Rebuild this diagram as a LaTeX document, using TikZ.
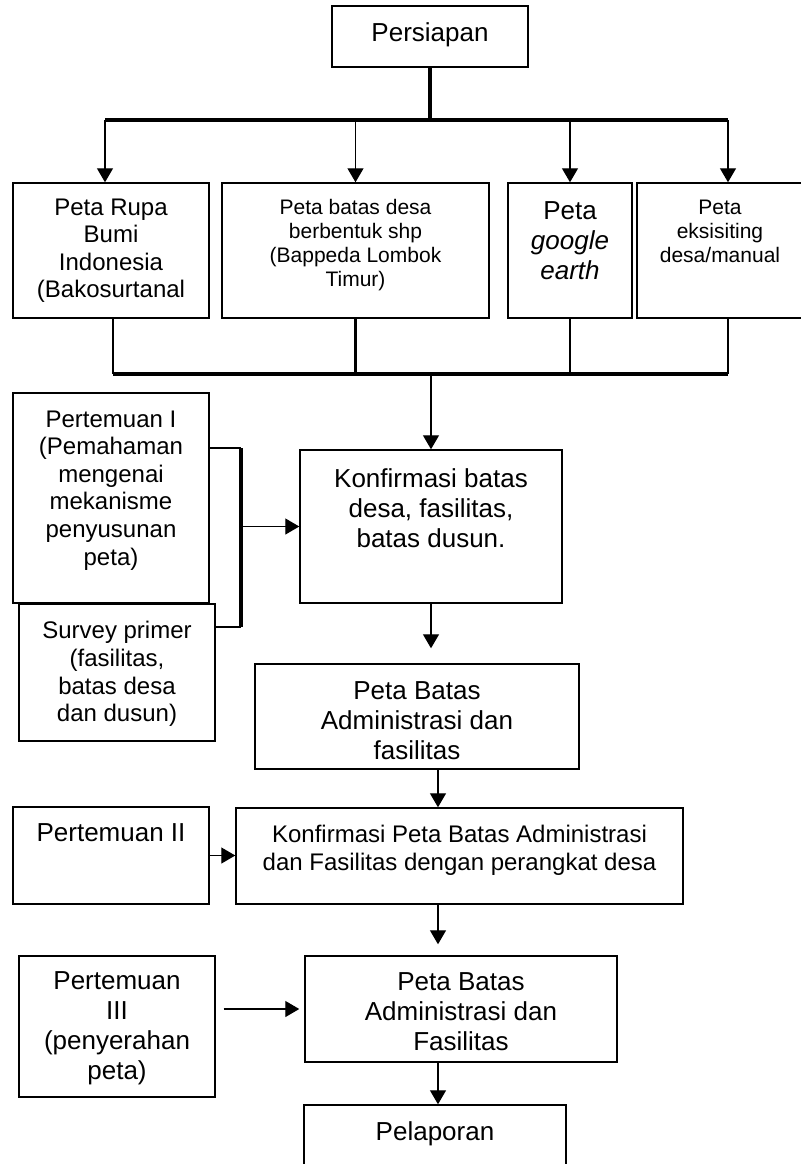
\documentclass[tikz,border=0pt]{standalone}
\usepackage{fontspec}
\setmainfont{Liberation Sans}
\usetikzlibrary{arrows.meta,positioning,fit}

\tikzset{
  box/.style={draw, line width=1.1pt, inner sep=0pt},
  txt/.style={align=center, inner sep=0pt},
  big/.style={font=\fontsize{19.5}{22.6}\selectfont},
  mid/.style={font=\fontsize{18}{20.7}\selectfont},
  small/.style={font=\fontsize{15.75}{18}\selectfont},
  arr/.style={-{Triangle[width=12pt,length=10.5pt]}, line width=1pt},
  bus/.style={line width=2.5pt},
  link/.style={line width=1pt},
}

\begin{document}
\begin{tikzpicture}[x=0.75pt, y=-0.75pt, node distance=12.75pt]
\useasboundingbox (0,0) rectangle (800,1164);

% boxes
\node[box, fit={(332,6) (528,67)}] (pers) {};
\node[box, fit={(13,183) (209,318)}] (rupa) {};
\node[box, fit={(222,183) (489,318)}] (shp) {};
\node[box, fit={(508,183) (632,318)}] (google) {};
\node[box, fit={(637,183) (803,318)}] (eks) {};
\node[box, fit={(13,393) (209,603)}] (pert1) {};
\node[box, fit={(19,604) (215,741)}] (survey) {};
\node[box, fit={(300,450) (562,603)}] (konf) {};
\node[box, fit={(255,664) (579,769)}] (batas1) {};
\node[box, fit={(13,807) (209,904)}] (pert2) {};
\node[box, fit={(236,808) (683,904)}] (konfpeta) {};
\node[box, fit={(19,956) (215,1097)}] (pert3) {};
\node[box, fit={(305,956) (617,1062)}] (batas2) {};
\node[box, fit={(304,1105) (566,1190)}] (pelap) {};

% texts
\node[txt, big, below=of pers.north] (perstxt) {Persiapan};
\node[txt, mid, below=12pt of rupa.north] (rupatxt) {Peta Rupa\\Bumi\\Indonesia\\(Bakosurtanal};
\node[txt, small, below=of shp.north] (shptxt) {Peta batas desa\\berbentuk shp\\(Bappeda Lombok\\Timur)};
\node[txt, big, below=14.25pt of google.north] (googletxt) {Peta\\\itshape google\\\itshape earth};
\node[txt, small, below=13.5pt of eks.north] (ekstxt) {Peta\\eksisiting\\desa/manual};
\node[txt, mid, below=13.5pt of pert1.north] (pert1txt) {Pertemuan I\\(Pemahaman\\mengenai\\mekanisme\\penyusunan\\peta)};
\node[txt, mid, below=13.5pt of survey.north] (surveytxt) {Survey primer\\(fasilitas,\\batas desa\\dan dusun)};
\node[txt, big, below=14.25pt of konf.north] (konftxt) {Konfirmasi batas\\desa, fasilitas,\\batas dusun.};
\node[txt, big, below=13.5pt of batas1.north] (batas1txt) {Peta Batas\\Administrasi dan\\fasilitas};
\node[txt, big, below=of pert2.north] (pert2txt) {Pertemuan II};
\node[txt, mid, below=13.5pt of konfpeta.north] (konfpetatxt) {Konfirmasi Peta Batas Administrasi\\dan Fasilitas dengan perangkat desa};
\node[txt, big, below=12pt of pert3.north] (pert3txt) {Pertemuan\\III\\(penyerahan\\peta)};
\node[txt, big, below=of batas2.north] (batas2txt) {Peta Batas\\Administrasi dan\\Fasilitas};
\node[txt, big, below=of pelap.north] (pelaptxt) {Pelaporan};

% branching from Persiapan
\coordinate (busL) at (105,120);
\coordinate (busR) at (728,120);
\draw[bus] (pers.south) -- (pers.south |- busL);
\draw[bus] (busL) -- (busR);
\draw[arr] (busL) -- (busL |- rupa.north);
\foreach \n in {shp,google}
  \draw[arr] (\n.north |- busL) -- (\n.north);
\draw[arr] (busR) -- (busR |- eks.north);

% joining the maps
\coordinate (botL) at (113,374);
\coordinate (botR) at (728,374);
\draw[link] (botL |- rupa.south) -- (botL);
\draw[bus] (shp.south) -- (shp.south |- botL);
\draw[link] (google.south) -- (google.south |- botL);
\draw[link] (botR |- eks.south) -- (botR);
\draw[bus] (botL) -- (botR);
\draw[arr] (konf.north |- botL) -- (konf.north);

% bracket of Pertemuan I and survey
\coordinate (brtop) at (241,448);
\coordinate (brbot) at (241,627);
\draw[link] (pert1.east |- brtop) -- (brtop);
\draw[bus] (brtop) -- (brbot);
\draw[link] (survey.east |- brbot) -- (brbot);
\draw[arr] (brtop |- konf.west) -- (konf.west);

% main column
\coordinate (spine) at (438,0);
\draw[arr, shorten >=11.25pt] (konf.south) -- (konf.south |- batas1.north);
\draw[arr] (spine |- batas1.south) -- (spine |- konfpeta.north);
\draw[arr] (pert2.east) -- (pert2.east -| konfpeta.west);
\draw[arr, shorten >=8.25pt] (spine |- konfpeta.south) -- (spine |- batas2.north);
\draw[arr, shorten <=6pt, shorten >=3.75pt] (batas2.west -| pert3.east) -- (batas2.west);
\draw[arr] (spine |- batas2.south) -- (spine |- pelap.north);
\end{tikzpicture}
\end{document}
